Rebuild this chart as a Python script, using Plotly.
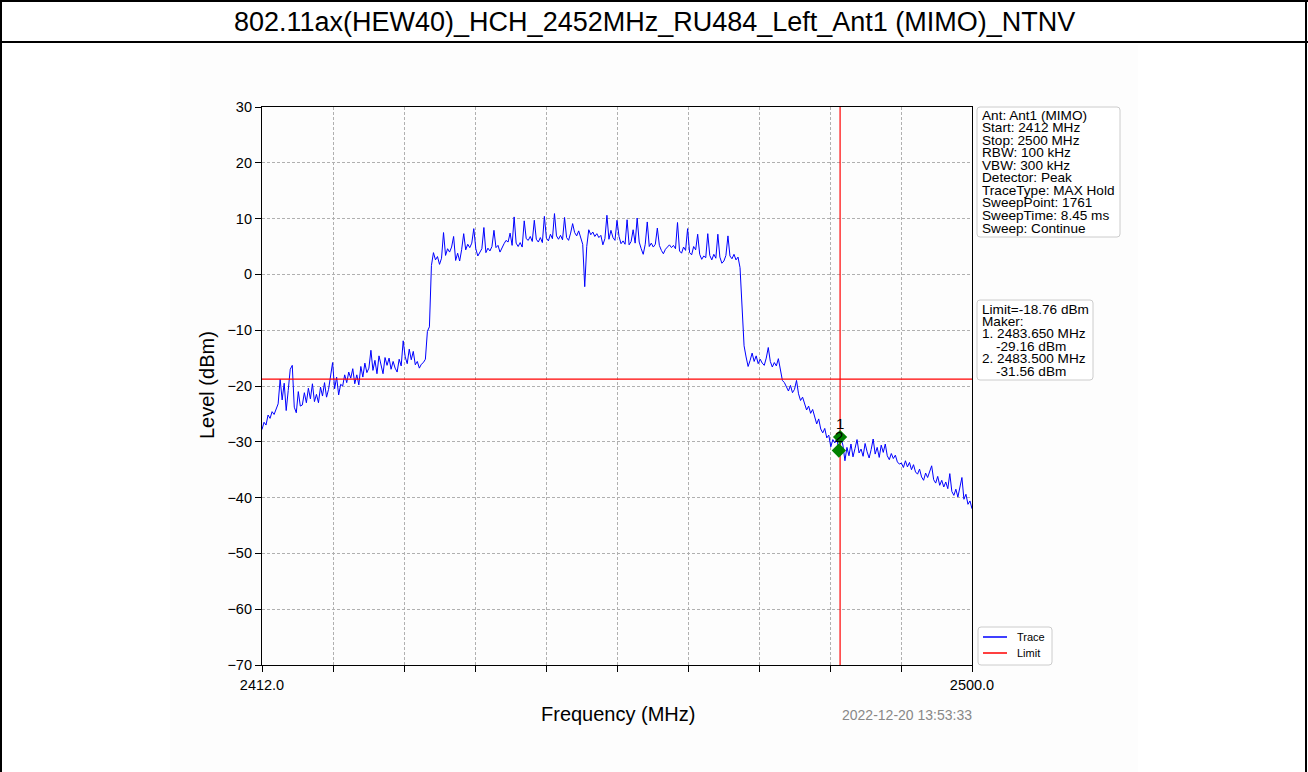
import plotly.graph_objects as go

# ---- sweep data -------------------------------------------------------------
start_mhz = 2412.0
stop_mhz = 2500.0
step_mhz = 0.25

# measured level per sweep bin (dBm)
level_dbm = [
    -27.8, -26.5, -27.0, -25.2, -25.8, -24.6, -25.1, -24.0, -23.2, -18.8,
    -22.5, -19.5, -24.4, -20.8, -17.0, -16.3, -23.8, -24.8, -21.0, -23.6,
    -23.4, -21.2, -23.0, -20.4, -22.3, -19.6, -22.8, -21.5, -23.0, -20.2,
    -21.8, -19.4, -22.0, -20.6, -17.9, -15.8, -20.5, -18.4, -21.6, -19.7,
    -20.0, -18.0, -19.4, -17.5, -18.6, -16.9, -19.6, -18.0, -19.8, -16.5,
    -18.4, -15.9, -17.6, -16.8, -13.6, -17.2, -15.4, -17.8, -14.6, -16.5,
    -17.8, -14.9, -16.3, -15.0, -17.0, -15.6, -16.8, -17.5, -15.2, -16.4,
    -11.9, -14.8, -16.0, -13.4, -15.3, -13.8, -16.2, -15.6, -16.8, -16.1,
    -15.8, -15.2, -10.2, -9.4, 1.6, 3.9, 2.6, 3.2, 1.8, 2.9,
    7.5, 3.4, 4.6, 4.0, 4.9, 6.8, 2.5, 3.8, 2.4, 4.5,
    7.3, 4.4, 5.4, 4.8, 5.6, 8.2, 4.6, 3.3, 4.0, 4.6,
    8.4, 3.9, 4.7, 4.2, 5.0, 7.9, 4.8, 5.2, 4.0, 4.9,
    5.5, 6.1, 5.8, 7.4, 5.2, 10.3, 5.6, 5.0, 5.7, 4.9,
    9.6, 6.4, 6.1, 6.8, 5.9, 9.7, 6.3, 5.8, 6.6, 5.7,
    10.4, 6.5, 6.0, 7.2, 6.4, 10.9, 6.9, 6.3, 7.0, 6.2,
    10.2, 6.6, 6.1, 7.4, 9.1, 7.5, 6.9, 7.8, 6.7, 5.4,
    -2.2, 5.0, 8.0, 7.1, 7.6, 6.8, 7.3, 6.6, 7.0, 5.3,
    6.4, 10.6, 6.3, 7.9, 6.6, 6.1, 9.7, 6.8, 5.5, 6.0,
    5.4, 9.8, 5.3, 5.9, 8.0, 5.6, 10.1, 5.8, 4.6, 3.6,
    5.4, 9.4, 5.0, 5.6, 4.9, 5.4, 8.3, 5.2, 4.3, 3.7,
    4.5, 5.0, 5.3, 4.8, 5.2, 4.6, 9.3, 4.2, 3.8, 4.9,
    4.3, 8.2, 3.9, 3.5, 5.0, 4.4, 7.2, 3.6, 2.7, 3.3,
    3.0, 7.3, 3.4, 2.6, 3.6, 2.9, 7.2, 3.1, 2.0, 2.4,
    3.4, 6.9, 3.3, 2.8, 3.6, 2.6, 3.1, 1.2, -5.0, -12.8,
    -14.8, -16.5, -15.4, -14.1, -15.6, -14.6, -16.0, -15.2, -15.9, -16.3,
    -15.0, -13.1, -15.6, -16.6, -15.8, -16.4, -15.1, -17.2, -19.0, -19.4,
    -20.3, -20.9, -19.9, -21.2, -20.6, -19.0, -21.4, -22.6, -22.0, -23.4,
    -24.3, -23.6, -24.9, -24.2, -25.6, -26.8, -25.9, -27.7, -28.4, -27.6,
    -29.3, -28.8, -30.9, -29.6, -30.2, -29.4, -31.6, -29.3, -30.6, -33.4,
    -31.0, -32.5, -30.4, -32.7, -31.2, -29.6, -32.0, -31.3, -32.6, -30.3,
    -31.8, -32.9, -31.4, -29.5, -32.2, -31.0, -32.8, -30.6, -31.9, -30.4,
    -32.5, -33.2, -32.1, -33.0, -32.4, -33.6, -34.0, -33.8, -34.6, -33.4,
    -34.5, -33.7, -35.0, -34.1, -35.4, -35.8, -34.9, -36.3, -36.9, -35.6,
    -36.4, -35.2, -34.3, -36.8, -37.4, -36.2, -37.8, -36.9, -38.1, -37.2,
    -38.4, -35.7, -38.9, -39.6, -38.5, -39.9, -38.2, -36.4, -40.3, -39.4,
    -41.2, -40.6, -42.0,
]
freq_mhz = [start_mhz + step_mhz * i for i in range(len(level_dbm))]

limit_dbm = -18.76
marker_freq = [2483.650, 2483.500]
marker_level = [-29.16, -31.56]
marker_label = ["1", "2"]

info_lines = [
    "Ant: Ant1 (MIMO)", "Start: 2412 MHz", "Stop: 2500 MHz", "RBW: 100 kHz",
    "VBW: 300 kHz", "Detector: Peak", "TraceType: MAX Hold",
    "SweepPoint: 1761", "SweepTime: 8.45 ms", "Sweep: Continue",
]
limit_lines = [
    ("Limit=-18.76 dBm", 0), ("Maker:", 0),
    ("1. 2483.650 MHz", 0), ("-29.16 dBm", 1),
    ("2. 2483.500 MHz", 0), ("-31.56 dBm", 1),
]
x_ticks = [start_mhz + (stop_mhz - start_mhz) * k / 10 for k in range(11)]
x_ticktext = ["2412.0"] + [""] * 9 + ["2500.0"]
title_text = "802.11ax(HEW40)_HCH_2452MHz_RU484_Left_Ant1 (MIMO)_NTNV"
stamp_text = "2022-12-20 13:53:33"

# ---- page geometry (pixels) -------------------------------------------------
W, H = 1308, 772
L, R, T, B = 262, 972, 107, 665
FONT = "Liberation Sans, Arial, sans-serif"


def px(x):
    return (x - L) / (R - L)


def py(y):
    return (B - y) / (B - T)


def rounded_box(x0, y0, x1, y1, r=3):
    p = [
        f"M {px(x0 + r)} {py(y0)}", f"L {px(x1 - r)} {py(y0)}",
        f"Q {px(x1)} {py(y0)} {px(x1)} {py(y0 + r)}",
        f"L {px(x1)} {py(y1 - r)}",
        f"Q {px(x1)} {py(y1)} {px(x1 - r)} {py(y1)}",
        f"L {px(x0 + r)} {py(y1)}",
        f"Q {px(x0)} {py(y1)} {px(x0)} {py(y1 - r)}",
        f"L {px(x0)} {py(y0 + r)}",
        f"Q {px(x0)} {py(y0)} {px(x0 + r)} {py(y0)} Z",
    ]
    return dict(type="path", xref="paper", yref="paper", path=" ".join(p),
                line=dict(color="#cccccc", width=1), fillcolor="white",
                layer="above")


def label(x, y, text, size=13.6, anchor="left", color="black", angle=0):
    return dict(x=px(x), y=py(y), xref="paper", yref="paper", text=text,
                showarrow=False, xanchor=anchor, yanchor="middle",
                textangle=angle, borderpad=0,
                font=dict(family=FONT, size=size, color=color))


fig = go.Figure()

# spectrum trace
fig.add_trace(go.Scatter(x=freq_mhz, y=level_dbm, mode="lines",
                         line=dict(color="#0000ff", width=1), hoverinfo="skip"))
# limit line and marker line
fig.add_trace(go.Scatter(x=[start_mhz, stop_mhz], y=[limit_dbm, limit_dbm],
                         mode="lines", line=dict(color="#ff0000", width=1.2)))
fig.add_trace(go.Scatter(x=[marker_freq[0], marker_freq[0]], y=[-70, 30],
                         mode="lines", line=dict(color="#ff0000", width=1.2)))
# markers
fig.add_trace(go.Scatter(x=marker_freq, y=marker_level, mode="markers",
                         marker=dict(symbol="diamond", size=11, color="#008000")))

shapes = [
    # faint figure background
    dict(type="rect", xref="paper", yref="paper", x0=px(170), x1=px(1138),
         y0=py(45), y1=py(772), fillcolor="#fdfdfd", line=dict(width=0),
         layer="below"),
    # page frame and header separator
    dict(type="line", xref="paper", yref="paper", x0=px(0), x1=px(1308),
         y0=py(1), y1=py(1), line=dict(color="black", width=2)),
    dict(type="line", xref="paper", yref="paper", x0=px(0), x1=px(1308),
         y0=py(42), y1=py(42), line=dict(color="black", width=2)),
    dict(type="line", xref="paper", yref="paper", x0=px(1), x1=px(1),
         y0=py(0), y1=py(772), line=dict(color="black", width=2)),
    dict(type="line", xref="paper", yref="paper", x0=px(1306), x1=px(1306),
         y0=py(0), y1=py(772), line=dict(color="black", width=2)),
    # info boxes
    rounded_box(977, 107, 1120, 237),
    rounded_box(977, 300, 1093, 380),
    rounded_box(978, 627, 1052, 665),
    # legend keys
    dict(type="line", xref="paper", yref="paper", x0=px(983), x1=px(1007),
         y0=py(637), y1=py(637), line=dict(color="#0000ff", width=1.5)),
    dict(type="line", xref="paper", yref="paper", x0=px(983), x1=px(1007),
         y0=py(653), y1=py(653), line=dict(color="#ff0000", width=1.5)),
]

annotations = [
    label(654, 22, title_text, size=27, anchor="center"),
    label(207, 385, "Level (dBm)", size=20, anchor="center", angle=-90),
    label(618, 714, "Frequency (MHz)", size=20, anchor="center"),
    label(973, 715, stamp_text, size=14, anchor="right", color="#888888"),
    label(1016, 637, "Trace", size=11),
    label(1016, 653, "Limit", size=11),
]
for i, line in enumerate(info_lines):
    annotations.append(label(981, 115 + 12.56 * i, line))
for i, (line, indent) in enumerate(limit_lines):
    annotations.append(label(981 + 14 * indent, 309 + 12.4 * i, line))
# marker numbers above each marker
for f, v, t in zip(marker_freq, marker_level, marker_label):
    annotations.append(dict(x=f, y=v, xref="x", yref="y", text=t,
                            showarrow=False, yshift=14, borderpad=0,
                            font=dict(family=FONT, size=15, color="black")))

fig.update_layout(
    width=W, height=H, autosize=False,
    margin=dict(l=L, r=W - R, t=T, b=H - B, pad=0),
    paper_bgcolor="white", plot_bgcolor="white",
    showlegend=False,
    shapes=shapes, annotations=annotations,
    font=dict(family=FONT, color="black"),
)
fig.update_xaxes(
    range=[start_mhz, stop_mhz], tickmode="array", tickvals=x_ticks,
    ticktext=x_ticktext, ticks="outside", ticklen=6, tickcolor="black",
    tickfont=dict(family=FONT, size=14.5, color="black"),
    showline=True, linecolor="black", linewidth=1.2, mirror=True,
    showgrid=True, gridcolor="#b0b0b0", griddash="3px,2px", gridwidth=1,
    zeroline=False,
)
fig.update_yaxes(
    range=[-70, 30], tickmode="linear", tick0=-70, dtick=10,
    ticks="outside", ticklen=6, tickcolor="black",
    tickfont=dict(family=FONT, size=14.5, color="black"),
    showline=True, linecolor="black", linewidth=1.2, mirror=True,
    showgrid=True, gridcolor="#b0b0b0", griddash="3px,2px", gridwidth=1,
    zeroline=False,
)

fig.write_html("out.html")
